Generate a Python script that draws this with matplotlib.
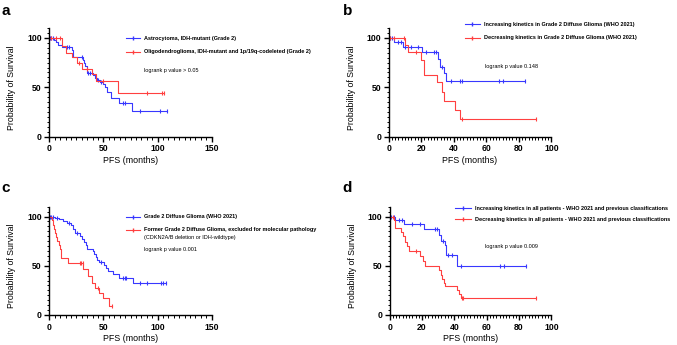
import numpy as np
import matplotlib
matplotlib.use("Agg")
import matplotlib.pyplot as plt
from matplotlib.lines import Line2D
from matplotlib.ticker import MultipleLocator

plt.rcParams['font.family'] = ['Liberation Sans', 'DejaVu Sans']

W, H = 677, 345
BLUE = '#3838ff'
RED = '#ff4040'

# ---- panel a : astrocytoma vs oligodendroglioma ----
a_blue_t = [4, 6, 8, 12, 21, 22, 31, 32, 33, 35, 40, 42, 44, 47, 50, 51, 53, 57, 64, 76]
a_blue_s = [98, 96, 93, 91, 88, 81, 78, 75, 72, 64, 62, 59, 57, 55, 53, 50, 45, 39, 34, 26]
a_blue_c = [1, 2, 3, 16, 18, 30, 36, 38, 45, 48, 68, 70, 84, 102, 109]
a_red_t = [12, 15, 21, 26, 30, 39, 43.5, 63]
a_red_s = [92, 85, 81, 75, 69, 63, 56, 44]
a_red_c = [2, 6, 10, 27, 35, 50, 90, 104, 106]

# ---- panel b : kinetics in grade 2 diffuse glioma ----
b_blue_t = [3.5, 9, 20.5, 30.5, 31.5, 34, 35.5]
b_blue_s = [96, 91, 86, 79, 71, 64, 56]
b_blue_c = [1, 2, 6, 7.5, 10, 13.5, 18, 23, 28, 29, 32.5, 38.5, 44, 45, 68, 70.5, 84]
b_red_t = [10, 12, 20, 22, 30, 32.5, 34, 41, 44]
b_red_s = [93, 86, 78, 62, 55, 45, 36, 27, 18]
b_red_c = [1, 3, 9.5, 17, 45, 90.5]

# ---- panel c : grade 2 vs former grade 2 ----
c_blue_t = [5, 9, 13, 16, 20, 21.5, 23.5, 28, 30.5, 32, 34, 35, 40, 41.5, 43, 44, 46,
            50.5, 52, 54.5, 59, 64, 77]
c_blue_s = [99, 97, 95, 93, 91, 87, 83, 80, 77, 74, 71, 67, 65, 62, 59, 56, 54,
            51, 48, 45, 42, 38, 33]
c_blue_c = [1, 2, 3, 7, 18, 26, 48, 68, 70, 71, 84, 90, 103, 105, 108]
c_red_t = [2.5, 3.5, 4.5, 5.5, 6.5, 7.5, 8.5, 9.5, 11, 17.5, 31.5, 35.5, 39, 42, 46, 50, 55]
c_red_s = [96, 91, 87, 83, 79, 75, 71, 67, 58, 53, 47, 40, 33, 27, 22, 17, 9]
c_red_c = [28, 29.5, 31, 45, 57.5]

# ---- panel d : kinetics in all patients ----
d_blue_t = [3.5, 9, 21, 30.5, 31.5, 34, 35, 41.5]
d_blue_s = [96, 92, 87, 81, 75, 71, 61, 50]
d_blue_c = [1, 2.5, 6, 7.5, 13.5, 18.5, 28, 29, 33, 36, 38.5, 44, 68.5, 70.5, 84.5]
d_red_t = [2.5, 3.5, 7, 8.5, 9.5, 10.5, 12, 19, 20.5, 22, 30.5, 31.5, 32.5, 33.5, 34.5,
           41.5, 43, 44]
d_red_s = [96, 88, 84, 80, 74, 70, 65, 60, 55, 50, 46, 41, 37, 33, 29, 25, 21, 17]
d_red_c = [2, 16, 44.7, 45.5, 90.5]

legend_a = ['Astrocytoma, IDH-mutant (Grade 2)',
            'Oligodendroglioma, IDH-mutant and 1p/19q-codeleted (Grade 2)']
legend_b = ['Increasing kinetics in Grade 2 Diffuse Glioma (WHO 2021)',
            'Decreasing kinetics in Grade 2 Diffuse Glioma (WHO 2021)']
legend_c = ['Grade 2 Diffuse Glioma (WHO 2021)',
            'Former Grade 2 Diffuse Glioma, excluded for molecular pathology']
legend_d = ['Increasing kinetics in all patients - WHO 2021 and previous classifications',
            'Decreasing kinetics in all patients - WHO 2021 and previous classifications']

LEG_FS = 4.0


def fx(px):
    return px / W


def fy(py):
    return 1 - py / H


def km(ax, t, s, c, color):
    end = max(max(t), max(c))
    xs = [0] + list(t) + [end]
    ys = [100] + list(s) + [s[-1]]
    ax.step(xs, ys, where='post', color=color, lw=0.8, clip_on=False)
    tt = np.array([0] + list(t))
    ss = np.array([100] + list(s))
    cy = [ss[np.searchsorted(tt, ci, side='right') - 1] for ci in c]
    ax.plot(c, cy, ls='none', marker='|', ms=3, mew=0.8, color=color, clip_on=False)


def style(ax, xmax, xmajor, xminor):
    ax.set_xlim(0, xmax)
    ax.set_ylim(0, 110)
    ax.xaxis.set_major_locator(MultipleLocator(xmajor))
    ax.xaxis.set_minor_locator(MultipleLocator(xminor))
    ax.set_yticks([0, 50, 100])
    ax.yaxis.set_minor_locator(MultipleLocator(5))
    for sp in ['top', 'right']:
        ax.spines[sp].set_visible(False)
    for sp in ['left', 'bottom']:
        ax.spines[sp].set_linewidth(1.0)
    ax.tick_params(which='major', length=3.5, width=1.0, pad=2,
                   labelsize=6.2)
    ax.tick_params(which='minor', length=1.8, width=0.7)
    for lab in ax.get_xticklabels() + ax.get_yticklabels():
        lab.set_fontweight('bold')


def legend(fig, x0, x1, ys, labels, tx):
    for y, lab, col in zip(ys, labels, [BLUE, RED]):
        fig.add_artist(Line2D([fx(x0), fx((x0 + x1) / 2), fx(x1)], [fy(y)] * 3,
                              color=col, lw=0.8, marker='|', ms=3, markevery=[1]))
        fig.text(fx(tx), fy(y), lab, fontsize=LEG_FS, fontweight='bold',
                 va='center', ha='left')


fig = plt.figure(figsize=(W / 100, H / 100), dpi=100)

panels = [
    ('a', (49.3, 211.7, 28, 136.7), 150, 50, 5,
     [(a_blue_t, a_blue_s, a_blue_c), (a_red_t, a_red_s, a_red_c)]),
    ('b', (388.7, 551.3, 28, 136.7), 100, 20, 2,
     [(b_blue_t, b_blue_s, b_blue_c), (b_red_t, b_red_s, b_red_c)]),
    ('c', (49.3, 211.7, 206.7, 315), 150, 50, 5,
     [(c_blue_t, c_blue_s, c_blue_c), (c_red_t, c_red_s, c_red_c)]),
    ('d', (389.7, 551.3, 206.7, 315), 100, 20, 2,
     [(d_blue_t, d_blue_s, d_blue_c), (d_red_t, d_red_s, d_red_c)]),
]

for name, (l, r, t, b), xmax, xmaj, xmin, curves in panels:
    ax = fig.add_axes([fx(l), fy(b), (r - l) / W, (b - t) / H])
    for (tt, ss, cc), col in zip(curves, [BLUE, RED]):
        km(ax, tt, ss, cc, col)
    style(ax, xmax, xmaj, xmin)
    ymid = (t + 10 / 110 * (b - t) + b) / 2
    fig.text(fx(l - 37.5), fy(ymid), 'Probability of Survival', rotation=90,
             fontsize=6.3, ha='center', va='center')
    fig.text(fx((l + r) / 2), fy(b + 23.5), 'PFS (months)', fontsize=6.4,
             ha='center', va='center')

# panel letters
fig.text(fx(1), fy(15), 'a', fontsize=11, fontweight='bold', va='baseline')
fig.text(fx(343), fy(15), 'b', fontsize=11, fontweight='bold', va='baseline')
fig.text(fx(1), fy(192), 'c', fontsize=11, fontweight='bold', va='baseline')
fig.text(fx(342), fy(192), 'd', fontsize=11, fontweight='bold', va='baseline')

# legends and p values
legend(fig, 126, 140, [38.3, 51.7], legend_a, 143.5)
fig.text(fx(144), fy(70.7), 'logrank p value > 0.05', fontsize=LEG_FS, va='center')

legend(fig, 464.7, 479.7, [24.3, 37.7], legend_b, 483.7)
fig.text(fx(484.7), fy(66.7), 'logrank p value 0.148', fontsize=LEG_FS, va='center')

legend(fig, 126, 140, [216.7, 230], legend_c, 143.5)
fig.text(fx(143.5), fy(237.7), '(CDKN2A/B deletion or IDH-wildtype)', fontsize=LEG_FS,
         va='center')
fig.text(fx(144), fy(250), 'logrank p value 0.001', fontsize=LEG_FS, va='center')

legend(fig, 455.3, 471.3, [208.3, 219.3], legend_d, 474.7)
fig.text(fx(484.7), fy(246.7), 'logrank p value 0.009', fontsize=LEG_FS, va='center')

fig.savefig('out.png', dpi=100)
